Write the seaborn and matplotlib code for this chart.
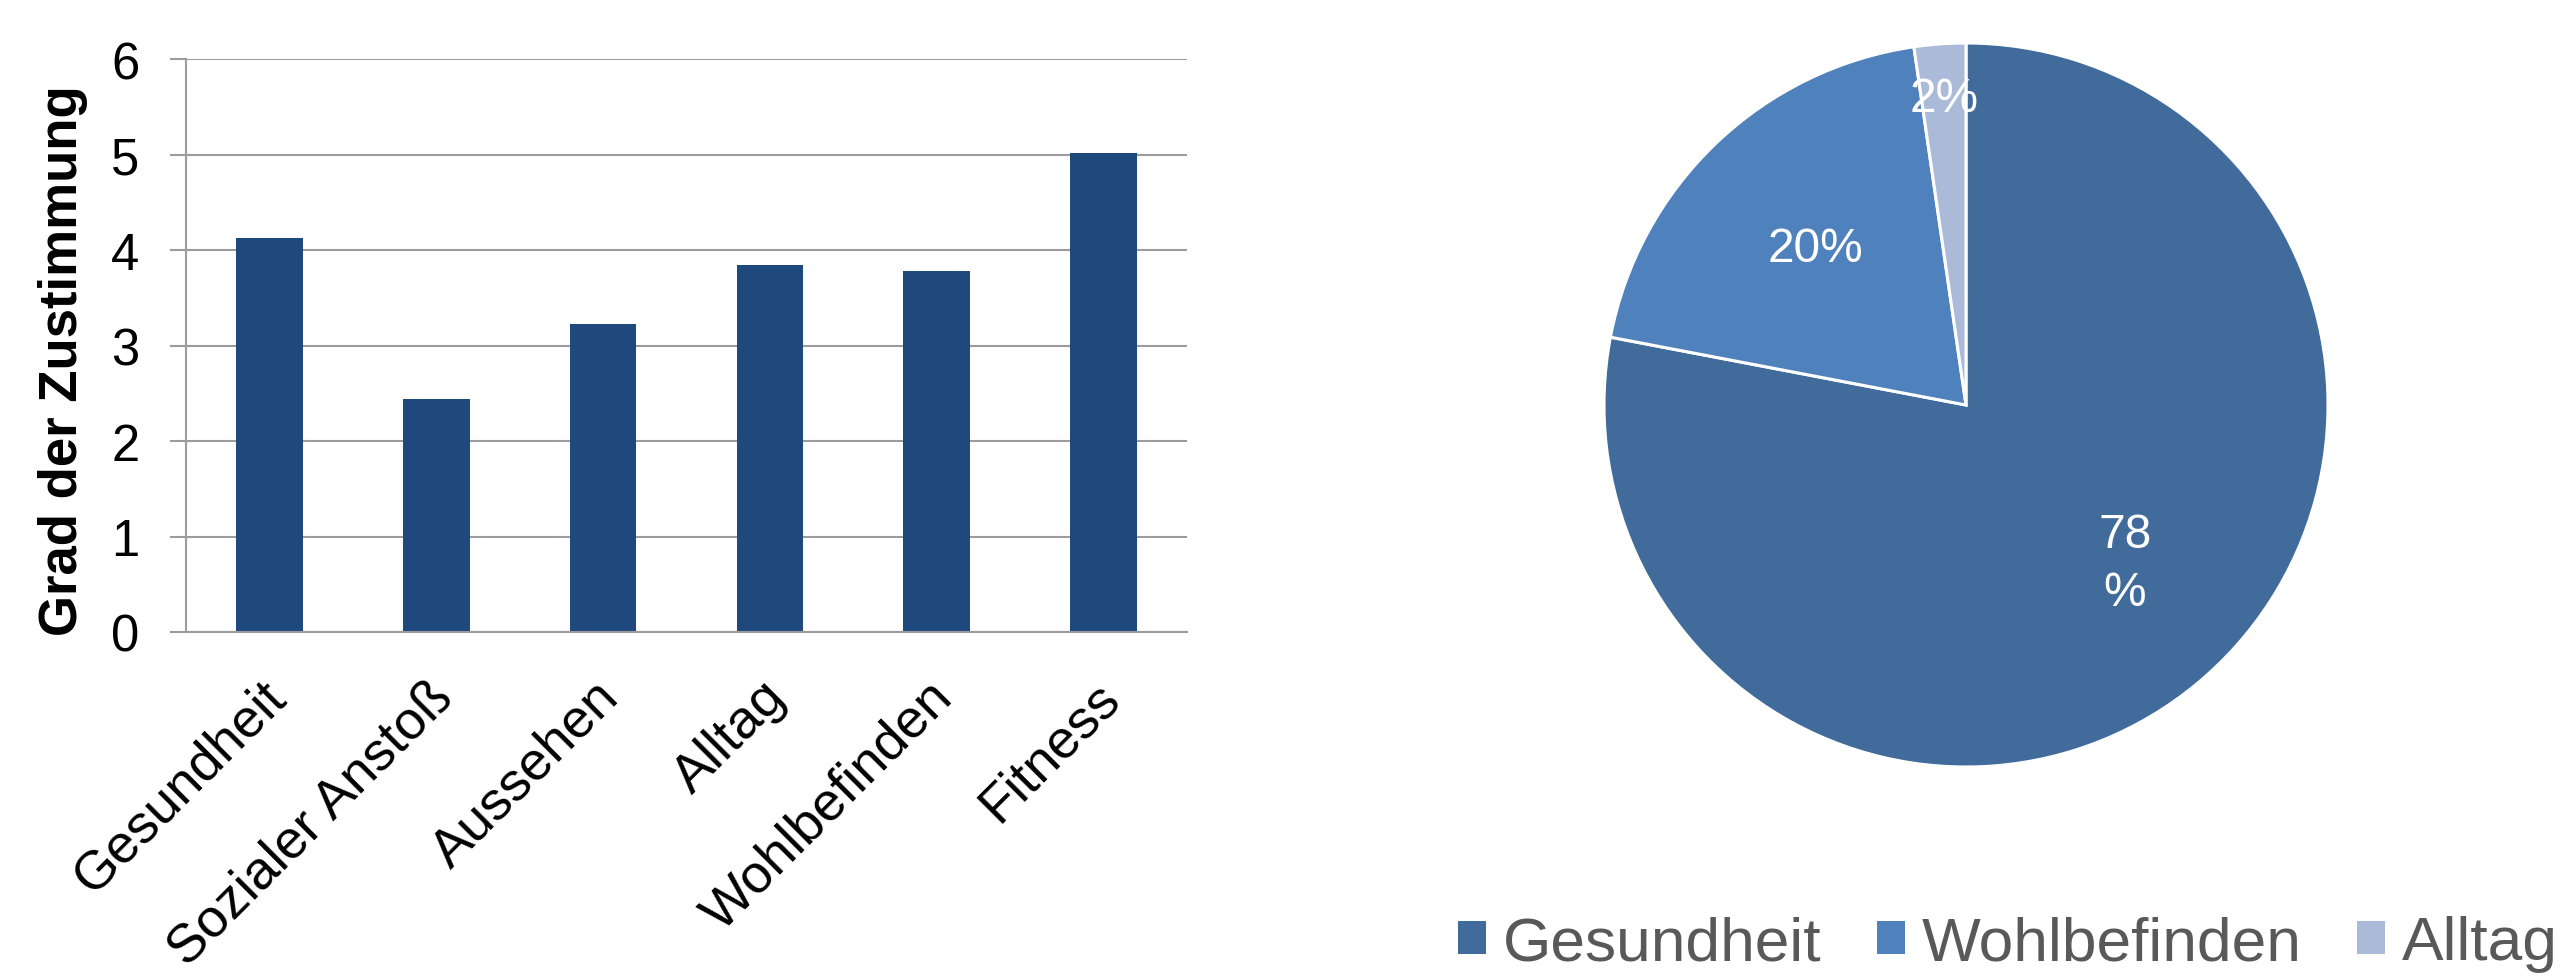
import matplotlib
matplotlib.use("Agg")
import matplotlib.pyplot as plt
import matplotlib.transforms as mtransforms
from matplotlib.patches import Patch
import numpy as np
import pandas as pd
import seaborn as sns

# ---- data ----
categories = ["Gesundheit", "Sozialer Anstoß", "Aussehen", "Alltag", "Wohlbefinden", "Fitness"]
values = [4.13, 2.44, 3.22, 3.84, 3.78, 5.02]
y_ticks = [0, 1, 2, 3, 4, 5, 6]
y_label = "Grad der Zustimmung"

pie_names = ["Gesundheit", "Wohlbefinden", "Alltag"]
pie_values = [78.0, 19.7, 2.3]
pie_texts = ["78\n%", "20%", "2%"]

bar_color = "#1F497D"
pie_colors = ["#416B9B", "#4F81BD", "#AABAD8"]
grid_color = "#9C9C9C"

sns.set_theme(style="white")
plt.rcParams["font.family"] = ["Liberation Sans", "DejaVu Sans"]

W, H = 2563, 979
fig = plt.figure(figsize=(W / 100, H / 100), dpi=100)
fig.patch.set_facecolor("white")

# ---- bar chart ----
ax = fig.add_axes([186 / W, 1 - 633 / H, 1001 / W, 573 / H])
df = pd.DataFrame({"cat": categories, "val": values})
sns.barplot(data=df, x="cat", y="val", color=bar_color, saturation=1,
            width=0.4, linewidth=0, ax=ax)
ax.set_xlim(-0.5, 5.5)
ax.set_ylim(0, 6)
ax.set_yticks(y_ticks)
ax.set_yticklabels([str(t) for t in y_ticks])
ax.yaxis.grid(True, color=grid_color, linewidth=1.5)
ax.set_axisbelow(True)
for s in ["top", "right"]:
    ax.spines[s].set_visible(False)
for s in ["left", "bottom"]:
    ax.spines[s].set_color(grid_color)
    ax.spines[s].set_linewidth(1.5)
ax.tick_params(axis="y", which="major", length=11.5, width=1.5, color=grid_color,
               labelsize=36.5, pad=22, labelcolor="black", left=True)
ax.tick_params(axis="x", length=0, pad=41, labelsize=39, labelcolor="black")
ax.set_xlabel("")
ax.set_xticks(range(len(categories)))
ax.set_xticklabels(categories, rotation=45, ha="right", va="center",
                   rotation_mode="anchor")
offset = mtransforms.ScaledTranslation(8 / 100, 0, fig.dpi_scale_trans)
for lbl in ax.get_xticklabels():
    lbl.set_transform(lbl.get_transform() + offset)
ax.set_ylabel(y_label, fontsize=38, fontweight="bold", color="black")
ax.yaxis.set_label_coords((88 - 186) / 1001, (633 - 361) / 573)

# ---- pie chart ----
cx, cy, r = 1966, 406, 362
ax2 = fig.add_axes([(cx - r) / W, 1 - (cy + r) / H, 2 * r / W, 2 * r / H])
wedges, _ = ax2.pie(pie_values, colors=pie_colors, startangle=90, counterclock=False,
                    wedgeprops=dict(edgecolor="white", linewidth=2.2))
ax2.set_xlim(-1, 1)
ax2.set_ylim(-1, 1)
ax2.set_aspect("equal")
dists = [0.62, 0.6, 0.85]
angle_shift = [5.5, 0, 0]
for w, txt, d, da in zip(wedges, pie_texts, dists, angle_shift):
    th = np.deg2rad((w.theta1 + w.theta2) / 2 + da)
    ax2.text(d * np.cos(th), d * np.sin(th), txt, ha="center", va="center",
             color="white", fontsize=34.5, linespacing=1.35)

handles = [Patch(facecolor=c, edgecolor="none") for c in pie_colors]
fig.legend(handles, pie_names, loc="center", bbox_to_anchor=(2008 / W, 1 - 945 / H),
           ncol=3, frameon=False, fontsize=44.8, labelcolor="#595959",
           handlelength=0.45, handleheight=0.45, handletextpad=0.26,
           columnspacing=0.9, borderpad=0, borderaxespad=0)

fig.savefig("out.png", dpi=100, facecolor="white")
